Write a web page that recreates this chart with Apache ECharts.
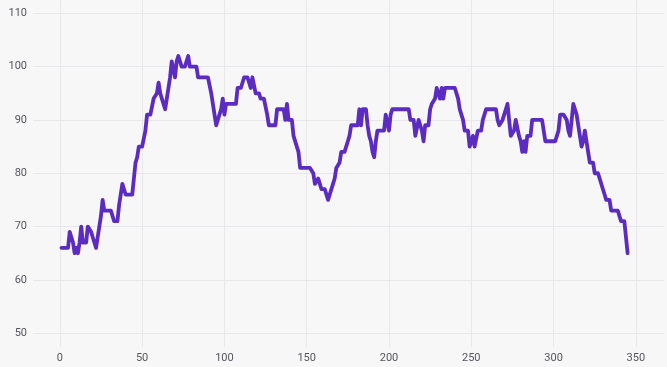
<!DOCTYPE html>
<html>
<head>
<meta charset="utf-8">
<script src="https://cdn.jsdelivr.net/npm/echarts@6/dist/echarts.min.js"></script>
<style>
html,body{margin:0;padding:0;background:#f7f7f8;}
#chart{width:667px;height:367px;}
</style>
</head>
<body>
<div id="chart"></div>
<script>
// x positions start at 1, one value per step
const xStart = 1;
const values = [
  66,66,66,66,66,69,69,67,65,66,
  65,67,70,67,67,67,70,70,69,68,
  67,66,68,68,72,75,73,73,73,73,
  73,72,71,71,71,74,76,78,77,76,
  76,76,76,76,79,82,83,85,85,85,
  85,88,91,91,91,91,94,94,95,97,
  95,94,94,92,94,96,98,101,101,98,
  101,102,102,100,100,100,100,102,100,100,
  100,100,100,98,98,98,98,98,98,98,
  98,95,93,91,89,89,91,92,94,91,
  93,93,93,93,93,93,93,96,96,96,
  96,98,98,98,98,96,98,98,95,95,
  95,94,94,94,94,91,89,89,89,89,
  89,92,92,92,92,92,90,93,90,90,
  90,87,87,85,84,81,81,81,81,81,
  81,81,81,80,78,78,79,78,77,77,
  77,77,75,76,76,78,79,81,81,82,
  84,84,84,84,86,87,89,89,89,89,
  89,92,89,92,92,92,89,87,86,84,
  83,86,88,88,88,88,88,91,91,88,
  91,92,92,92,92,92,92,92,92,92,
  92,92,90,90,90,87,87,90,89,88,
  86,89,89,89,92,93,93,94,96,96,
  94,96,94,96,96,96,96,96,96,96,
  96,94,92,91,90,88,88,88,85,85,
  87,85,85,88,88,88,90,91,92,92,
  92,92,92,92,92,90,89,89,90,91,
  91,93,90,87,87,88,90,90,87,86,
  84,86,84,87,87,87,90,90,90,90,
  90,90,90,90,86,86,86,86,86,86,
  86,86,88,91,91,91,91,90,88,87,
  90,93,93,91,89,87,85,86,88,86,
  84,82,82,82,80,80,80,79,79,77,
  76,75,75,75,73,73,73,73,73,72,
  71,71,71,68,65
];
const xTickStep = 50;
const yTickStep = 10;

const seriesData = values.map((v, i) => [xStart + i, v]);

const chart = echarts.init(document.getElementById('chart'), null, {renderer: 'canvas'});
const gridColor = '#e7e7e9';
const labelStyle = {color: '#55555e', fontSize: 11, fontFamily: 'Roboto, sans-serif'};
chart.setOption({
  backgroundColor: '#f7f7f8',
  animation: false,
  grid: {left: 33, right: 0, top: 0, bottom: 20, containLabel: false},
  xAxis: {
    type: 'value',
    min: -16.3,
    max: 367.1,
    splitNumber: 8,
    axisLine: {show: false},
    axisTick: {show: false},
    axisLabel: Object.assign({
      margin: 6,
      formatter: v => (Math.abs(v % xTickStep) < 1e-6 ? String(v) : '')
    }, labelStyle),
    splitLine: {show: true, showMinLine: false, showMaxLine: false, lineStyle: {color: gridColor, width: 1}}
  },
  yAxis: {
    type: 'value',
    min: 47.4,
    max: 112.5,
    splitNumber: 6,
    axisLine: {show: false},
    axisTick: {show: false},
    axisLabel: Object.assign({
      margin: 6,
      formatter: v => (Math.abs(v % yTickStep) < 1e-6 ? String(v) : '')
    }, labelStyle),
    splitLine: {show: true, showMinLine: false, showMaxLine: false, lineStyle: {color: gridColor, width: 1}}
  },
  series: [{
    type: 'line',
    data: seriesData,
    showSymbol: false,
    symbol: 'none',
    lineStyle: {color: '#5b2bc2', width: 3.8, join: 'round', cap: 'round'},
    itemStyle: {color: '#5b2bc2'}
  }]
});
</script>
</body>
</html>
